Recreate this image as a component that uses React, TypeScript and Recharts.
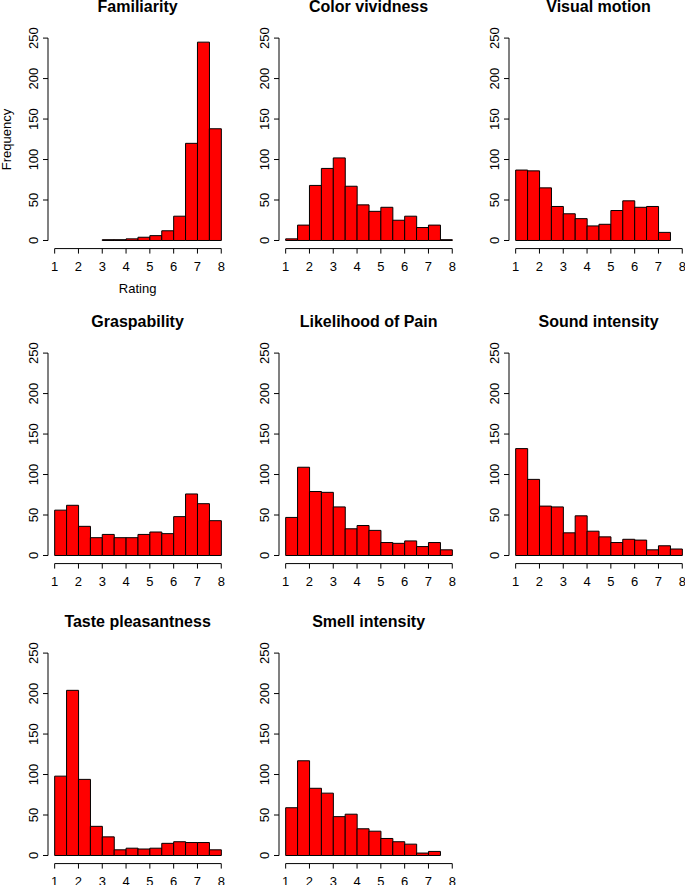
import React from 'react';
import { BarChart, Bar, XAxis, YAxis, ReferenceLine } from 'recharts';

// ---- data ----
const BIN_CENTERS = [1.25, 1.75, 2.25, 2.75, 3.25, 3.75, 4.25, 4.75, 5.25, 5.75, 6.25, 6.75, 7.25, 7.75];
const X_TICKS = [1, 2, 3, 4, 5, 6, 7, 8];
const Y_TICKS = [0, 50, 100, 150, 200, 250];

const TITLES = [
  'Familiarity',
  'Color vividness',
  'Visual motion',
  'Graspability',
  'Likelihood of Pain',
  'Sound intensity',
  'Taste pleasantness',
  'Smell intensity',
];

const familiarity = [0, 0, 0, 0, 1, 1, 2, 4, 6, 12, 30, 120, 245, 138];
const colorVividness = [2, 19, 68, 89, 102, 67, 44, 36, 41, 25, 30, 16, 19, 1];
const visualMotion = [87, 86, 65, 42, 33, 27, 18, 20, 37, 49, 41, 42, 10, 0];
const graspability = [56, 62, 36, 22, 26, 22, 22, 26, 29, 27, 48, 76, 64, 43];
const likelihoodOfPain = [47, 109, 79, 78, 60, 33, 37, 31, 16, 15, 18, 11, 16, 7];
const soundIntensity = [132, 94, 61, 60, 28, 49, 30, 23, 16, 20, 19, 7, 12, 8];
const tastePleasantness = [98, 204, 94, 36, 23, 7, 9, 8, 9, 15, 17, 16, 16, 7];
const smellIntensity = [59, 117, 83, 77, 48, 51, 33, 30, 21, 17, 14, 3, 5, 0];

const SERIES = [
  familiarity,
  colorVividness,
  visualMotion,
  graspability,
  likelihoodOfPain,
  soundIntensity,
  tastePleasantness,
  smellIntensity,
];

// ---- layout ----
const FONT = '"Liberation Sans", Arial, Helvetica, sans-serif';
const X_MIN = 1;
const X_MAX = 8;
const Y_MAX = 250;
const X_PAD = (X_MAX - X_MIN) * 0.04;
const Y_PAD = Y_MAX * 0.04;
const X_DOMAIN = [X_MIN - X_PAD, X_MAX + X_PAD];
const Y_DOMAIN = [-Y_PAD, Y_MAX + Y_PAD];

const PX_X = 23.8; // px per rating unit
const PX_Y = 0.8096; // px per frequency unit
const COL_X1 = [54.3, 285.3, 515.3]; // pixel x of rating 1
const ROW_Y0 = [240.7, 555.7, 855.3]; // pixel y of frequency 0

const YW = 50;
const XH = 40;
const MR = 5;
const MT = 20;
const PLOT_W = (X_DOMAIN[1] - X_DOMAIN[0]) * PX_X;
const PLOT_H = (Y_DOMAIN[1] - Y_DOMAIN[0]) * PX_Y;

const YTick = (props: any) => {
  const { x, y, payload } = props;
  return (
    <text
      x={x}
      y={y}
      transform={`rotate(-90, ${x}, ${y})`}
      textAnchor="middle"
      fontSize={13}
      fontFamily={FONT}
      fill="#000"
    >
      {payload.value}
    </text>
  );
};

function Panel({ idx }: { idx: number }) {
  const col = idx % 3;
  const row = Math.floor(idx / 3);
  const data = BIN_CENTERS.map((c, i) => ({ x: c, v: SERIES[idx][i] }));
  const left = COL_X1[col] - X_PAD * PX_X - YW;
  const top = ROW_Y0[row] - Y_DOMAIN[1] * PX_Y - MT;
  return (
    <div style={{ position: 'absolute', left, top }}>
      <BarChart
        width={YW + PLOT_W + MR}
        height={PLOT_H + XH + MT}
        data={data}
        margin={{ top: MT, right: MR, bottom: 0, left: 0 }}
        barCategoryGap={0}
        barGap={0}
      >
        <XAxis
          dataKey="x"
          type="number"
          domain={X_DOMAIN}
          allowDataOverflow
          ticks={X_TICKS}
          interval={0}
          height={XH}
          axisLine={false}
          tickLine={{ stroke: '#000' }}
          tickSize={5}
          tickMargin={8}
          tick={{ fill: '#000', fontSize: 13, fontFamily: FONT }}
        />
        <YAxis
          type="number"
          domain={Y_DOMAIN}
          allowDataOverflow
          ticks={Y_TICKS}
          interval={0}
          width={YW}
          axisLine={false}
          tickLine={{ stroke: '#000' }}
          tickSize={5}
          tickMargin={5}
          tick={<YTick />}
        />
        <Bar
          dataKey="v"
          fill="#FF0000"
          stroke="#000"
          strokeWidth={1}
          isAnimationActive={false}
        />
        <ReferenceLine
          segment={[{ x: X_MIN, y: Y_DOMAIN[0] }, { x: X_MAX, y: Y_DOMAIN[0] }]}
          stroke="#000"
          strokeWidth={1}
          ifOverflow="visible"
        />
        <ReferenceLine
          segment={[{ x: X_DOMAIN[0], y: 0 }, { x: X_DOMAIN[0], y: Y_MAX }]}
          stroke="#000"
          strokeWidth={1}
          ifOverflow="visible"
        />
      </BarChart>
    </div>
  );
}

export default function App() {
  return (
    <div
      style={{
        position: 'absolute',
        left: 0,
        top: 0,
        width: 685,
        height: 885,
        overflow: 'hidden',
        background: '#fff',
      }}
    >
      {TITLES.map((_, i) => (
        <Panel key={i} idx={i} />
      ))}
      <svg
        width={685}
        height={885}
        style={{ position: 'absolute', left: 0, top: 0, pointerEvents: 'none' }}
      >
        {TITLES.map((t, i) => {
          const col = i % 3;
          const row = Math.floor(i / 3);
          return (
            <text
              key={t}
              x={COL_X1[col] + 3.5 * PX_X}
              y={ROW_Y0[row] - 228.7}
              textAnchor="middle"
              fontSize={16}
              fontWeight="bold"
              fontFamily={FONT}
              fill="#000"
            >
              {t}
            </text>
          );
        })}
        <text
          x={COL_X1[0] + 3.5 * PX_X}
          y={ROW_Y0[0] + 52}
          textAnchor="middle"
          fontSize={13}
          fontFamily={FONT}
          fill="#000"
        >
          Rating
        </text>
        <text
          x={11}
          y={ROW_Y0[0] - 125 * PX_Y}
          transform={`rotate(-90, 11, ${ROW_Y0[0] - 125 * PX_Y})`}
          textAnchor="middle"
          fontSize={13}
          fontFamily={FONT}
          fill="#000"
        >
          Frequency
        </text>
      </svg>
    </div>
  );
}
